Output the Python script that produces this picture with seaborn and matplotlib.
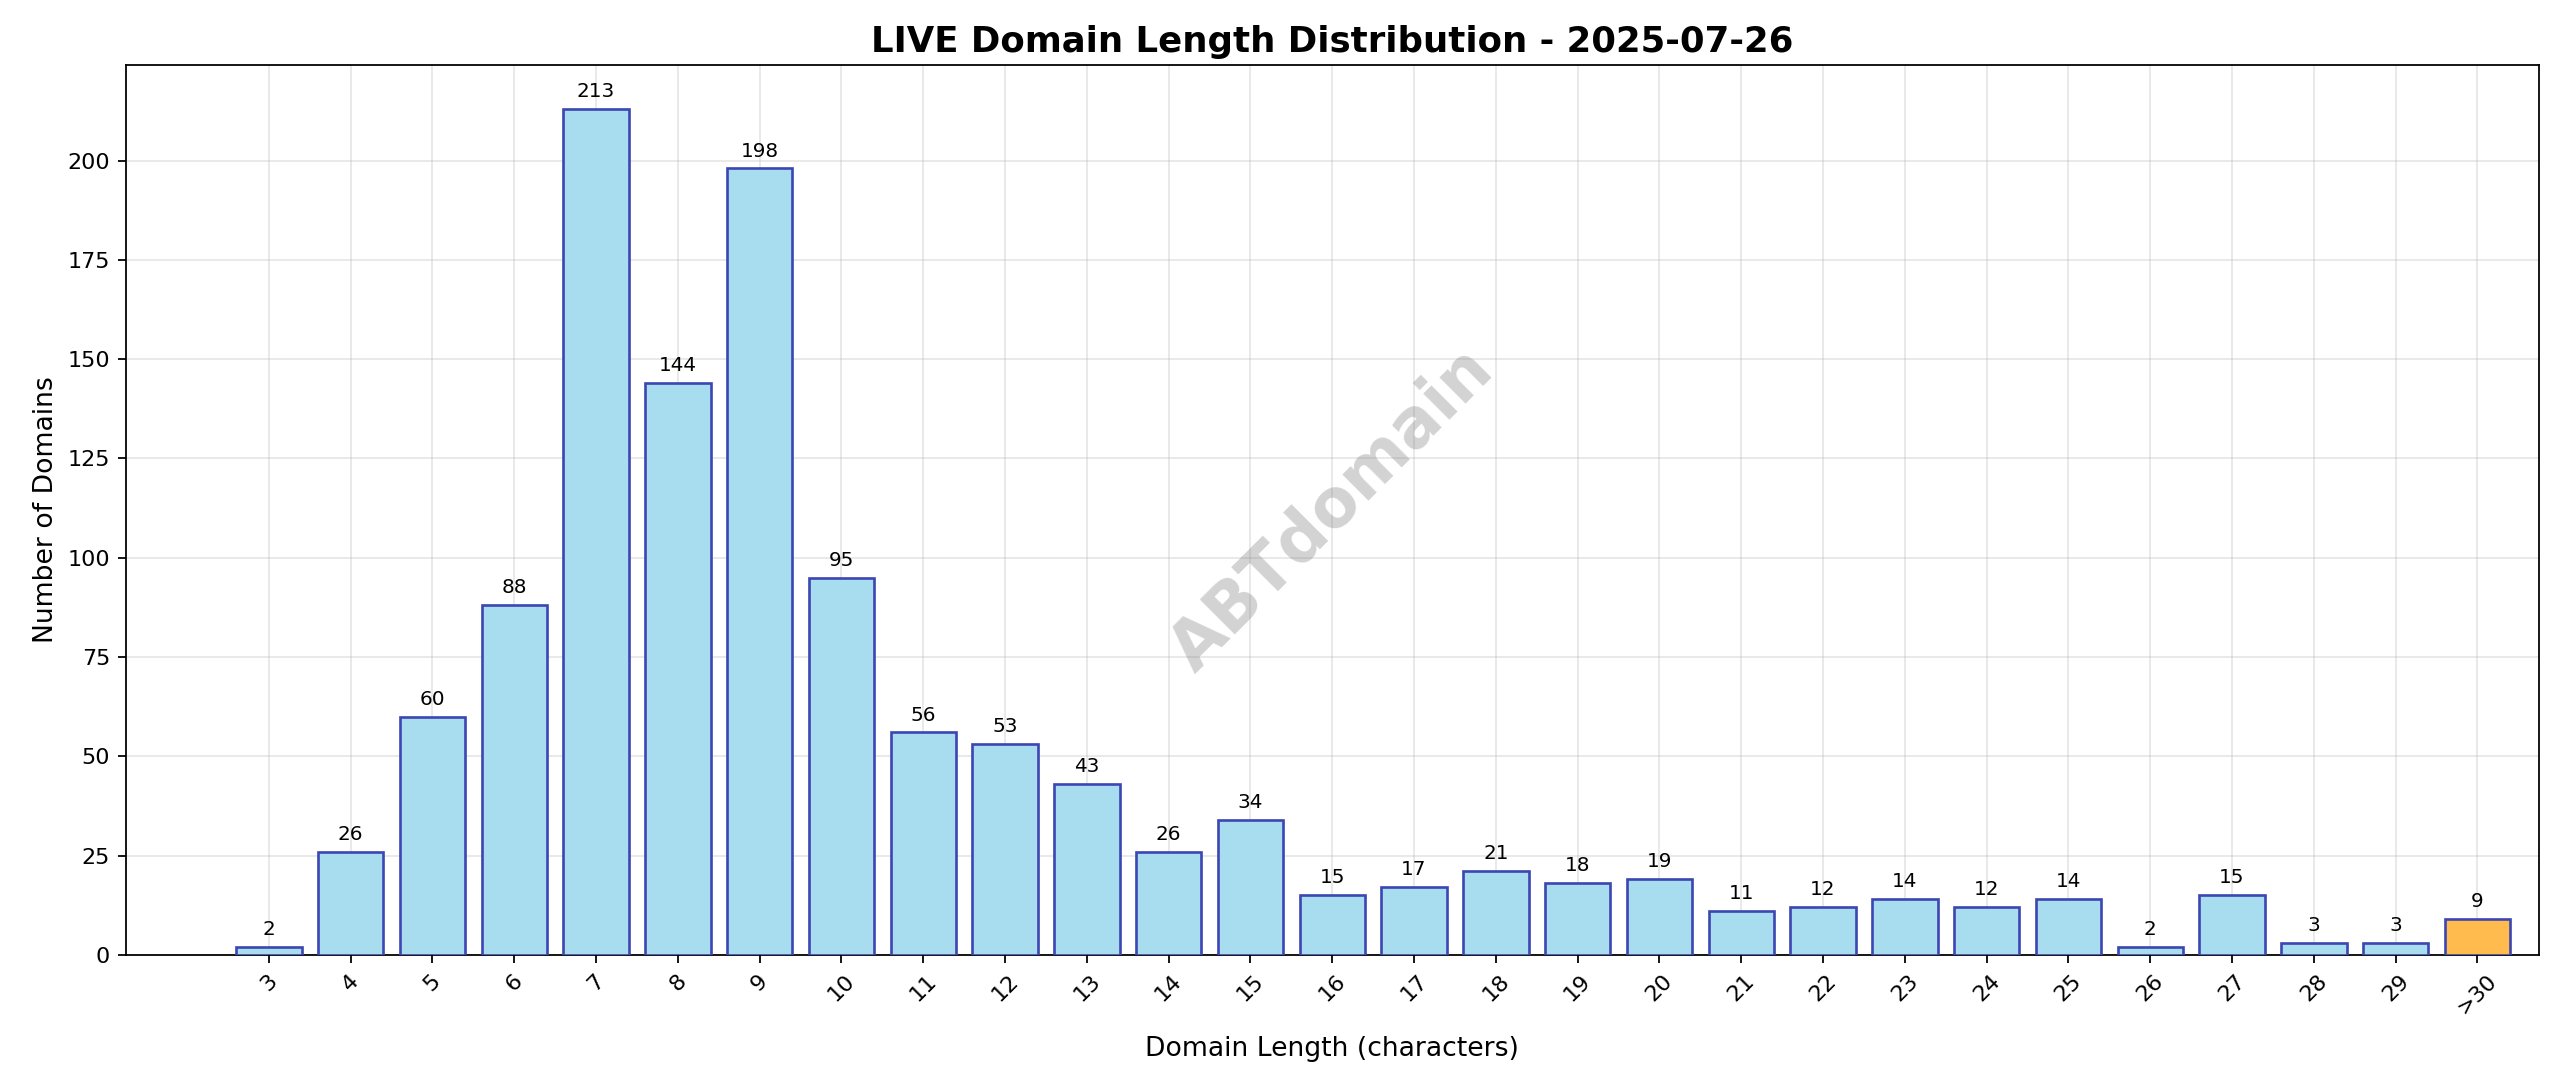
import matplotlib
matplotlib.use("Agg")
import matplotlib.pyplot as plt
import seaborn as sns
import pandas as pd

lengths = ["3","4","5","6","7","8","9","10","11","12","13","14","15","16","17","18","19","20","21","22","23","24","25","26","27","28","29",">30"]
counts = [2,26,60,88,213,144,198,95,56,53,43,26,34,15,17,21,18,19,11,12,14,12,14,2,15,3,3,9]
title = "LIVE Domain Length Distribution - 2025-07-26"

df = pd.DataFrame({"len": lengths, "count": counts})
colors = ["#a8dcef"] * (len(lengths) - 1) + ["#ffbb4d"]

fig, ax = plt.subplots(figsize=(16, 6.794), dpi=160)
sns.barplot(data=df, x="len", y="count", hue="len", palette=colors, legend=False,
            saturation=1, edgecolor="#3d47b3", linewidth=1.2, width=0.8, ax=ax, zorder=3)
for i, c in enumerate(counts):
    ax.text(i, c + 2, str(c), ha="center", va="bottom", fontsize=9)
ax.set_xlim(-1.75, len(lengths) - 0.25)
ax.set_ylim(0, 224)
ax.grid(True, alpha=0.3, zorder=0)
ax.set_axisbelow(True)
ax.tick_params(axis="x", rotation=45)
ax.set_xlabel("Domain Length (characters)", fontsize=12, labelpad=8)
ax.set_ylabel("Number of Domains", fontsize=12)
ax.set_title(title, fontsize=16, fontweight="bold")
ax.text(0.5, 0.5, "ABTdomain", transform=ax.transAxes, fontsize=30, fontweight="bold",
        color="gray", alpha=0.35, rotation=45, ha="center", va="center")
fig.subplots_adjust(left=77/1568, right=1555/1568, top=1-40/666, bottom=1-585/666)
fig.savefig("out.png", dpi=160)
